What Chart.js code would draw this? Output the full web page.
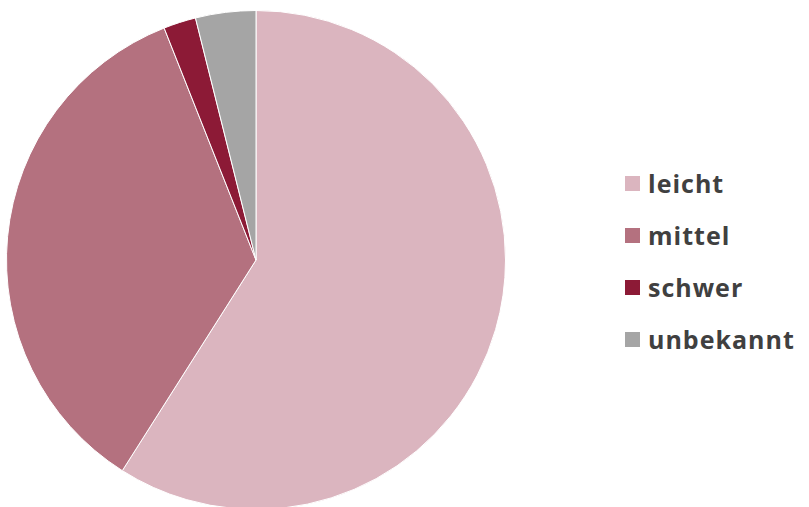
<!DOCTYPE html>
<html>
<head>
<meta charset="utf-8">
<script src="https://cdn.jsdelivr.net/npm/chart.js@4"></script>
<style>
body{margin:0;background:#fff;width:809px;height:507px;overflow:hidden;position:relative;font-family:"Open Sans",sans-serif}
#wrap{position:absolute;left:6px;top:10px;width:500px;height:500px}
#legend{position:absolute;left:625px;top:157px}
.item{height:52px;display:flex;align-items:center;font-size:25px;font-weight:700;color:#404040;letter-spacing:1px}
.box{width:15px;height:15px;margin-right:8px}
</style>
</head>
<body>
<div id="wrap"><canvas id="pie"></canvas></div>
<div id="legend"></div>
<script>
// ================= DATA =================
const categories = ["leicht", "mittel", "schwer", "unbekannt"];
const shares = [59, 35, 2.1, 3.9];
const colors = ["#dbb5bf", "#b4717f", "#8c1a36", "#a5a5a5"];

// ================= CHART =================
new Chart(document.getElementById("pie"), {
  type: "pie",
  data: {
    labels: categories,
    datasets: [{
      data: shares,
      backgroundColor: colors,
      borderColor: "#ffffff",
      borderWidth: 1
    }]
  },
  options: {
    responsive: true,
    maintainAspectRatio: false,
    animation: false,
    plugins: { legend: { display: false }, tooltip: { enabled: false } }
  }
});

// ================= LEGEND =================
const legend = document.getElementById("legend");
categories.forEach((c, i) => {
  const div = document.createElement("div");
  div.className = "item";
  div.innerHTML = `<span class="box" style="background:${colors[i]}"></span>${c}`;
  legend.appendChild(div);
});
</script>
</body>
</html>
